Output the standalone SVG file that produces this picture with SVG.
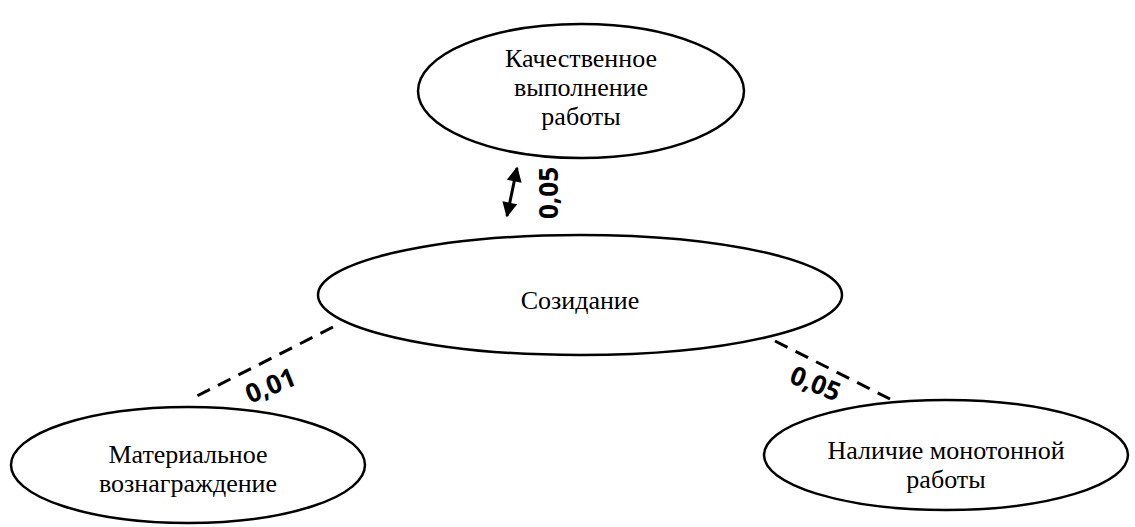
<svg xmlns="http://www.w3.org/2000/svg" width="1135" height="527" viewBox="0 0 1135 527">
<defs>
<marker id="ah" viewBox="0 0 10 10" refX="9" refY="5" markerWidth="6" markerHeight="5" orient="auto-start-reverse" markerUnits="strokeWidth">
<path d="M0,0 L10,5 L0,10 z" fill="#000"/>
</marker>
</defs>
<style>
.node ellipse{fill:#fff;stroke:#000;stroke-width:2.5}
.lbl{font-family:"Liberation Serif","Times New Roman",serif;font-size:26px;fill:#000;text-anchor:middle}
.w{font-family:"Open Sans","Liberation Sans",sans-serif;font-weight:bold;font-size:26px;fill:#000;text-anchor:middle}
.dash{stroke:#000;stroke-width:3;stroke-dasharray:14,9;fill:none}
</style>
<g id="connectors">
<line x1="517" y1="168" x2="507" y2="216" stroke="#000" stroke-width="3" marker-start="url(#ah)" marker-end="url(#ah)"/>
<line class="dash" x1="333" y1="327" x2="193" y2="398"/>
<line class="dash" x1="775" y1="341" x2="890" y2="399"/>
<text class="w" transform="translate(558,193) rotate(-90)">0,05</text>
<text class="w" transform="translate(274,394) rotate(-22)">0,01</text>
<text class="w" transform="translate(812,392) rotate(22)">0,05</text>
</g>
<g id="node-top" class="node">
<ellipse cx="581" cy="91" rx="163" ry="67"/>
<text class="lbl" x="581" y="67">Качественное</text>
<text class="lbl" x="581" y="96">выполнение</text>
<text class="lbl" x="581" y="125">работы</text>
</g>
<g id="node-center" class="node">
<ellipse cx="580" cy="295" rx="262" ry="60"/>
<text class="lbl" x="580" y="309">Созидание</text>
</g>
<g id="node-left" class="node">
<ellipse cx="188" cy="465" rx="177" ry="58"/>
<text class="lbl" x="188" y="463">Материальное</text>
<text class="lbl" x="188" y="492">вознаграждение</text>
</g>
<g id="node-right" class="node">
<ellipse cx="946" cy="455" rx="182" ry="55"/>
<text class="lbl" x="946" y="459">Наличие монотонной</text>
<text class="lbl" x="946" y="488">работы</text>
</g>
</svg>
